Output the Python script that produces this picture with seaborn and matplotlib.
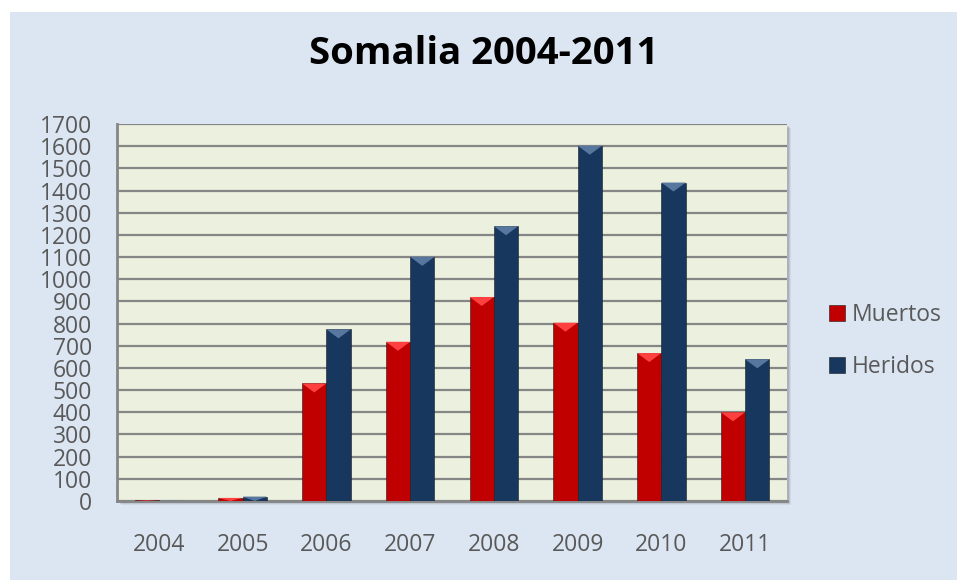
import pandas as pd
import matplotlib
matplotlib.use('Agg')
import matplotlib.pyplot as plt
import seaborn as sns
from matplotlib.patches import Rectangle

# Data
years = ['2004', '2005', '2006', '2007', '2008', '2009', '2010', '2011']
muertos = [3, 14, 530, 718, 920, 804, 667, 400]
heridos = [2, 20, 774, 1101, 1239, 1602, 1436, 639]
series_names = ['Muertos', 'Heridos']
series_colors = ['#c00000', '#17375e']

df = pd.DataFrame({
    'Año': years * 2,
    'Valor': muertos + heridos,
    'Serie': [series_names[0]] * len(years) + [series_names[1]] * len(years),
})

sns.set_theme(style='white')
plt.rcParams['font.family'] = ['Open Sans', 'DejaVu Sans']

fig = plt.figure(figsize=(9.57, 5.80), dpi=100, facecolor='white')

# light blue chart background
fig.patches.append(Rectangle((10 / 957, 0), 1 - 10 / 957, 1 - 12 / 580,
                             transform=fig.transFigure, facecolor='#dce6f2',
                             edgecolor='none', zorder=-3))

ax_rect = [117 / 957, 79 / 580, 670 / 957, 377 / 580]
# soft shadow behind the plot area
for i, a in enumerate([0.10, 0.08, 0.06]):
    off = (i + 2)
    fig.patches.append(Rectangle((ax_rect[0] + off / 957, ax_rect[1] - off / 580),
                                 ax_rect[2], ax_rect[3], transform=fig.transFigure,
                                 facecolor='black', alpha=a, edgecolor='none', zorder=-2))

ax = fig.add_axes(ax_rect)
ax.set_facecolor('#ebf1de')

sns.barplot(data=df, x='Año', y='Valor', hue='Serie', palette=series_colors,
            width=0.58, ax=ax, saturation=1, edgecolor='#1a1a1a', linewidth=0.4,
            zorder=3)

# bevel-like lighter tops on bars
px_per_unit = (377 / 1700)
for patch in ax.patches:
    h = patch.get_height()
    if h <= 0:
        continue
    x0 = patch.get_x()
    w = patch.get_width()
    fc = patch.get_facecolor()
    light = tuple(min(1, c + 0.25) for c in fc[:3])
    depth = min(h, 9 / px_per_unit)
    tri = plt.Polygon([(x0, h), (x0 + w, h), (x0 + w / 2, h - depth)],
                      closed=True, facecolor=light, edgecolor='none', zorder=4)
    ax.add_patch(tri)

ax.set_ylim(0, 1700)
ax.set_yticks(range(0, 1701, 100))
ax.set_xlim(-0.5, len(years) - 0.5)
ax.yaxis.grid(True, color='#868686', linewidth=1.6)
ax.set_axisbelow(True)
ax.set_xlabel('')
ax.set_ylabel('')

for side in ['top', 'right']:
    ax.spines[side].set_visible(False)
for side in ['left', 'bottom']:
    ax.spines[side].set_color('#868686')
    ax.spines[side].set_linewidth(2)

ax.tick_params(axis='x', length=0, pad=23, labelsize=16.5, labelcolor='#595959')
ax.tick_params(axis='y', length=0, pad=18, labelsize=16.5, labelcolor='#595959')

handles, labels = ax.get_legend_handles_labels()
ax.get_legend().remove()
fig.legend(handles, labels, loc='center left', bbox_to_anchor=(829 / 957, 1 - 341 / 580),
           frameon=False, fontsize=16.5, labelcolor='#595959', handlelength=0.7,
           handleheight=0.7, handletextpad=0.3, labelspacing=1.2,
           borderpad=0, borderaxespad=0)

fig.text(0.505, 1 - 54 / 580, 'Somalia 2004-2011', ha='center', va='center',
         fontsize=27.5, fontweight='bold', color='black')

fig.savefig('out.png', dpi=100, facecolor=fig.get_facecolor())
